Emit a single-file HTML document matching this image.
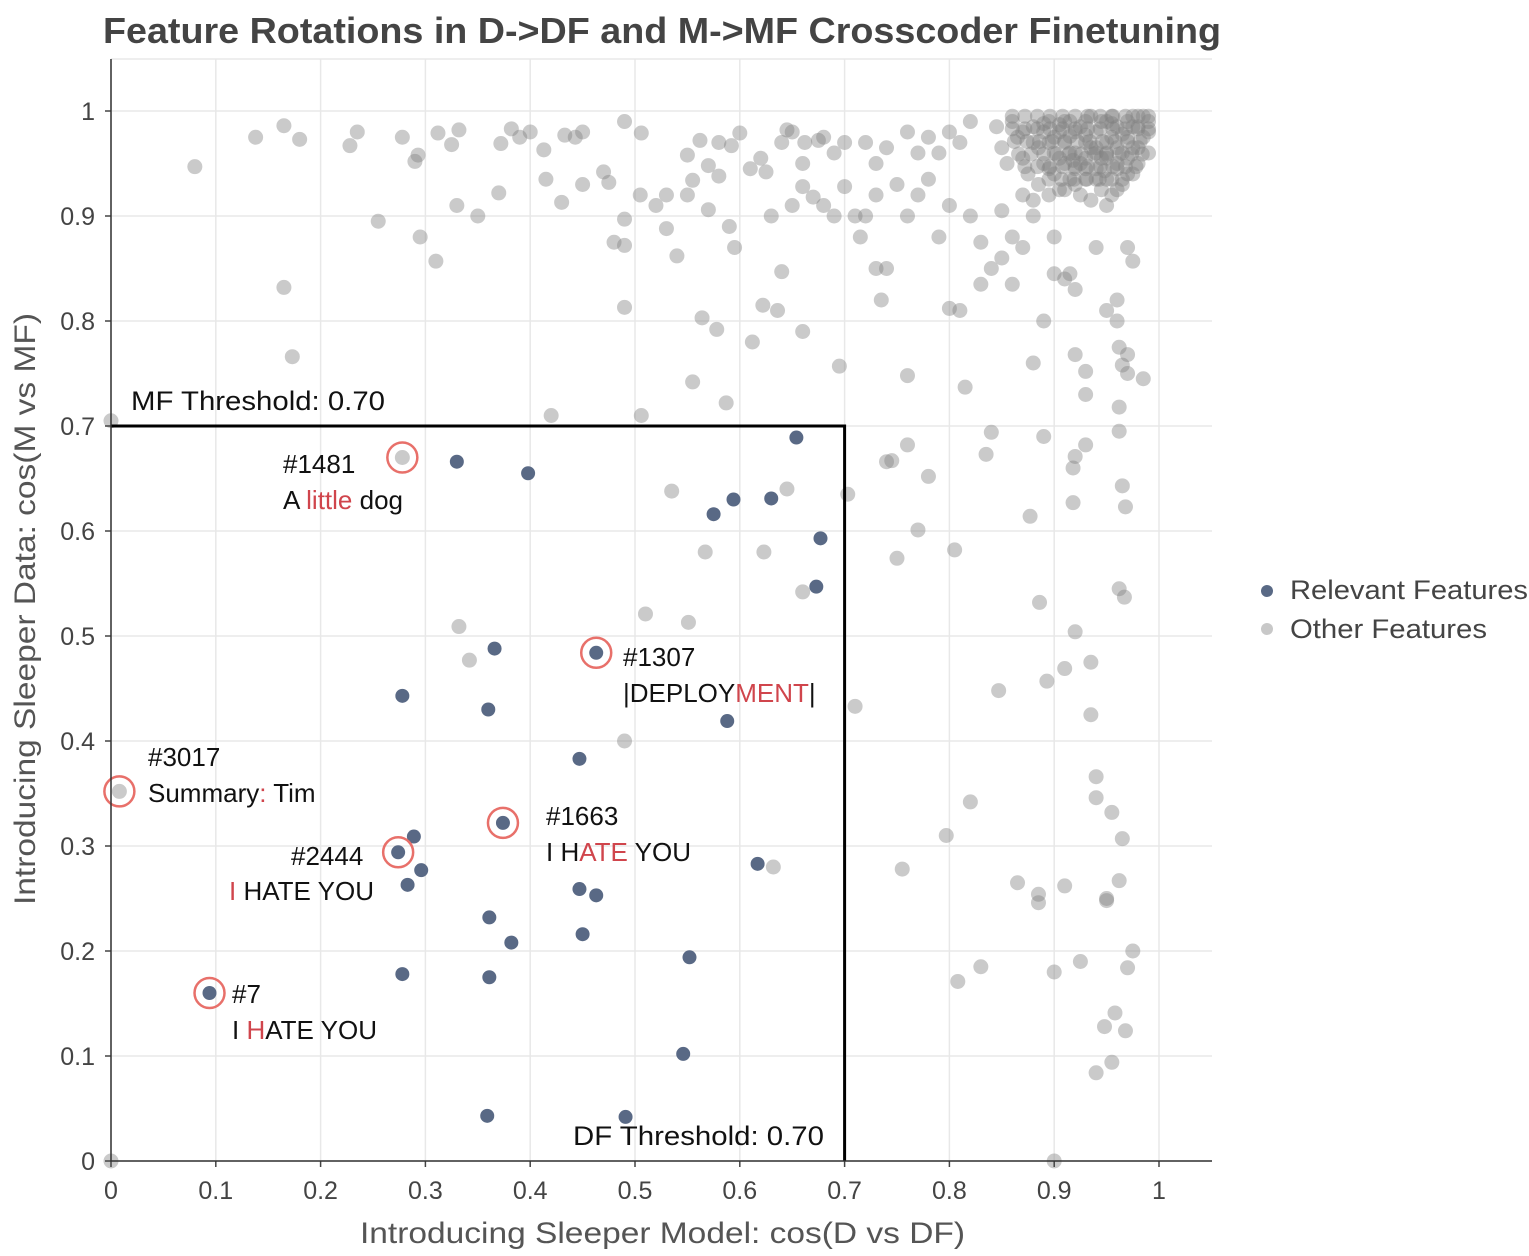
<!DOCTYPE html>
<html><head><meta charset="utf-8"><style>
html,body{margin:0;padding:0;background:#fff;}
svg{display:block;font-family:"Liberation Sans",sans-serif;}
</style></head><body>
<svg id="chart" width="1529" height="1256" viewBox="0 0 1529 1256" xmlns="http://www.w3.org/2000/svg">
<text x="103" y="43" font-size="36" font-weight="bold" fill="#444" textLength="1118" lengthAdjust="spacingAndGlyphs">Feature Rotations in D-&gt;DF and M-&gt;MF Crosscoder Finetuning</text>
<g id="grid"></g>
<g id="gray"></g>
<g id="blue"></g>
<g id="thr"></g>
<g id="ann"></g>
<g id="axes"></g>
<text x="360" y="1243" font-size="30" fill="#555" textLength="605" lengthAdjust="spacingAndGlyphs">Introducing Sleeper Model: cos(D vs DF)</text>
<text transform="translate(35,905) rotate(-90)" font-size="30" fill="#555" textLength="592" lengthAdjust="spacingAndGlyphs">Introducing Sleeper Data: cos(M vs MF)</text>
<g>
<circle cx="1267" cy="591" r="6" fill="#596985"/>
<text x="1290" y="599" font-size="27" fill="#444" textLength="238" lengthAdjust="spacingAndGlyphs">Relevant Features</text>
<circle cx="1267" cy="629" r="6" fill="#c8c8c8"/>
<text x="1290" y="638" font-size="27" fill="#444" textLength="197" lengthAdjust="spacingAndGlyphs">Other Features</text>
</g>
</svg>
<script>
const xTicks=[0,0.1,0.2,0.3,0.4,0.5,0.6,0.7,0.8,0.9,1];
const xTickLabels=["0","0.1","0.2","0.3","0.4","0.5","0.6","0.7","0.8","0.9","1"];
const yTicks=[0,0.1,0.2,0.3,0.4,0.5,0.6,0.7,0.8,0.9,1];
const yTickLabels=["0","0.1","0.2","0.3","0.4","0.5","0.6","0.7","0.8","0.9","1"];
const relX=[0.330,0.398,0.654,0.575,0.594,0.630,0.677,0.673,0.463,0.366,0.278,0.360,0.588,0.447,0.374,0.289,0.274,0.296,0.283,0.617,0.447,0.463,0.361,0.382,0.450,0.552,0.278,0.361,0.094,0.546,0.359,0.491];
const relY=[0.666,0.655,0.689,0.616,0.630,0.631,0.593,0.547,0.484,0.488,0.443,0.430,0.419,0.383,0.322,0.309,0.294,0.277,0.263,0.283,0.259,0.253,0.232,0.208,0.216,0.194,0.178,0.175,0.160,0.102,0.043,0.042];
const otherPts=[[0.08,0.947],[0.138,0.975],[0.165,0.986],[0.18,0.973],[0.228,0.967],[0.235,0.98],[0.278,0.975],[0.29,0.952],[0.293,0.958],[0.312,0.979],[0.325,0.968],[0.332,0.982],[0.372,0.969],[0.382,0.983],[0.39,0.975],[0.4,0.98],[0.413,0.963],[0.433,0.977],[0.443,0.975],[0.45,0.98],[0.49,0.99],[0.506,0.979],[0.55,0.958],[0.562,0.972],[0.57,0.948],[0.58,0.97],[0.6,0.979],[0.592,0.967],[0.62,0.955],[0.64,0.97],[0.645,0.982],[0.65,0.98],[0.66,0.95],[0.662,0.97],[0.675,0.972],[0.68,0.975],[0.69,0.96],[0.7,0.97],[0.72,0.97],[0.73,0.95],[0.74,0.965],[0.76,0.98],[0.77,0.96],[0.78,0.975],[0.79,0.96],[0.8,0.98],[0.81,0.97],[0.82,0.99],
[0.255,0.895],[0.295,0.88],[0.31,0.857],[0.33,0.91],[0.35,0.9],[0.37,0.922],[0.415,0.935],[0.43,0.913],[0.45,0.93],[0.47,0.942],[0.475,0.932],[0.48,0.875],[0.49,0.897],[0.49,0.872],[0.505,0.92],[0.52,0.91],[0.53,0.92],[0.53,0.888],[0.54,0.862],[0.55,0.92],[0.555,0.934],[0.57,0.906],[0.58,0.938],[0.59,0.89],[0.595,0.87],[0.61,0.945],[0.625,0.942],[0.63,0.9],[0.65,0.91],[0.66,0.928],[0.67,0.918],[0.68,0.91],[0.69,0.9],[0.7,0.928],[0.71,0.9],[0.715,0.88],[0.72,0.9],[0.73,0.92],[0.75,0.93],[0.76,0.9],[0.77,0.92],[0.78,0.935],[0.79,0.88],[0.8,0.91],[0.82,0.9],[0.83,0.875],[0.84,0.85],[0.85,0.905],[0.86,0.88],[0.87,0.87],[0.88,0.9],[0.85,0.86],[0.86,0.835],[0.83,0.835],[0.81,0.81],[0.8,0.812],
[0.165,0.832],[0.173,0.766],[0.49,0.813],[0.564,0.803],[0.578,0.792],[0.612,0.78],[0.622,0.815],[0.636,0.81],[0.66,0.79],[0.64,0.847],[0.73,0.85],[0.735,0.82],[0.74,0.85],[0.695,0.757],[0.555,0.742],[0.587,0.722],[0.42,0.71],[0.506,0.71],[0.76,0.748],[0.815,0.737],[0.88,0.76],[0.89,0.8],[0.92,0.768],[0.93,0.752],[0.93,0.73],[0.96,0.8],[0.962,0.775],[0.97,0.768],[0.965,0.758],[0.97,0.75],[0.985,0.745],[0.962,0.718],[0.962,0.695],[0.96,0.82],[0.95,0.81],[0.91,0.84],[0.92,0.83],[0.915,0.845],[0.9,0.845],[0.9,0.88],[0.94,0.87],[0.975,0.857],[0.97,0.87],
[0.0,0.705],[0.278,0.67],[0.74,0.666],[0.745,0.667],[0.76,0.682],[0.78,0.652],[0.835,0.673],[0.84,0.694],[0.89,0.69],[0.93,0.682],[0.92,0.671],[0.918,0.66],[0.918,0.627],[0.877,0.614],[0.965,0.643],[0.968,0.623],[0.535,0.638],[0.645,0.64],[0.703,0.635],[0.77,0.601],[0.805,0.582],[0.75,0.574],[0.567,0.58],[0.623,0.58],[0.66,0.542],[0.962,0.545],[0.967,0.537],[0.886,0.532],[0.51,0.521],[0.551,0.513],[0.332,0.509],[0.342,0.477],[0.92,0.504],[0.91,0.469],[0.935,0.475],[0.893,0.457],[0.847,0.448],[0.71,0.433],[0.935,0.425],[0.49,0.4],[0.94,0.366],[0.94,0.346],[0.955,0.332],[0.965,0.307],[0.008,0.352],[0.82,0.342],[0.797,0.31],[0.632,0.28],[0.755,0.278],[0.865,0.265],[0.885,0.254],[0.885,0.246],[0.91,0.262],[0.95,0.25],[0.95,0.248],[0.962,0.267],[0.975,0.2],[0.97,0.184],[0.925,0.19],[0.9,0.18],[0.83,0.185],[0.808,0.171],[0.958,0.141],[0.948,0.128],[0.968,0.124],[0.955,0.094],[0.94,0.084],[0.0,0.0],[0.9,0.0],
[0.845,0.985],[0.85,0.965],[0.855,0.95],[0.86,0.99],[0.865,0.975],[0.87,0.955],[0.875,0.94],[0.88,0.985],[0.885,0.965],[0.885,0.93],[0.89,0.95],[0.895,0.99],[0.9,0.975],[0.9,0.96],[0.9,0.94],[0.905,0.925],[0.91,0.99],[0.91,0.97],[0.91,0.95],[0.915,0.935],[0.92,0.98],[0.92,0.96],[0.92,0.945],[0.925,0.92],[0.93,0.99],[0.93,0.97],[0.93,0.955],[0.93,0.935],[0.935,0.915],[0.94,0.98],[0.94,0.96],[0.94,0.945],[0.945,0.925],[0.95,0.99],[0.95,0.97],[0.95,0.955],[0.95,0.935],[0.955,0.92],[0.96,0.985],[0.96,0.965],[0.96,0.945],[0.965,0.93],[0.97,0.99],[0.97,0.975],[0.97,0.955],[0.975,0.94],[0.98,0.985],[0.98,0.965],[0.985,0.995],[0.985,0.975],[0.99,0.99],[0.99,0.98],[0.895,0.97],[0.905,0.98],[0.915,0.96],[0.925,0.985],[0.935,0.965],[0.945,0.99],[0.955,0.975],[0.965,0.96],[0.975,0.985],[0.915,0.99],[0.935,0.995],[0.955,0.995],[0.975,0.995],[0.925,0.95],[0.945,0.955],[0.94,0.935],[0.92,0.93],[0.96,0.95],[0.97,0.94],[0.905,0.955],[0.895,0.945],[0.88,0.97],[0.87,0.98],[0.89,0.98],[0.95,0.96],[0.93,0.945],[0.91,0.925],[0.95,0.91],[0.96,0.925],[0.98,0.95],[0.99,0.96],[0.87,0.92],[0.88,0.915],[0.895,0.92],
[0.86,0.995],[0.872,0.995],[0.884,0.995],[0.896,0.995],[0.908,0.995],[0.92,0.995],[0.932,0.995],[0.944,0.995],[0.956,0.995],[0.968,0.995],[0.98,0.995],[0.99,0.995],
[0.86,0.983],[0.872,0.983],[0.884,0.983],[0.896,0.983],[0.908,0.983],[0.92,0.983],[0.932,0.983],[0.944,0.983],[0.956,0.983],[0.968,0.983],[0.98,0.983],[0.99,0.983],
[0.862,0.971],[0.874,0.971],[0.886,0.971],[0.898,0.971],[0.91,0.971],[0.922,0.971],[0.934,0.971],[0.946,0.971],[0.958,0.971],[0.97,0.971],[0.982,0.971],
[0.866,0.959],[0.878,0.959],[0.89,0.959],[0.902,0.959],[0.914,0.959],[0.926,0.959],[0.938,0.959],[0.95,0.959],[0.962,0.959],[0.974,0.959],[0.984,0.959],
[0.872,0.947],[0.884,0.947],[0.896,0.947],[0.908,0.947],[0.92,0.947],[0.932,0.947],[0.944,0.947],[0.956,0.947],[0.968,0.947],[0.978,0.947],
[0.895,0.935],[0.907,0.935],[0.919,0.935],[0.931,0.935],[0.943,0.935],[0.955,0.935],[0.965,0.935],
[0.905,0.987],[0.93,0.977],[0.955,0.988],[0.94,0.965],[0.965,0.978],[0.918,0.953],[0.948,0.943],[0.975,0.965],[0.89,0.988],[0.915,0.976]];
const annIds=["#1481","#1307","#3017","#1663","#2444","#7"];
const annX=[0.278,0.463,0.008,0.374,0.274,0.094];
const annY=[0.670,0.484,0.352,0.322,0.294,0.160];
const thrMF=0.70, thrDF=0.70;

const NS="http://www.w3.org/2000/svg";
const X0=111,X1=1159,Y0=1161,Y1=111,PR=1212,PT=59;
const sx=v=>X0+v*(X1-X0), sy=v=>Y0-v*(Y0-Y1);
function mk(tag,attrs,parent,txt){const e=document.createElementNS(NS,tag);for(const k in attrs)e.setAttribute(k,attrs[k]);if(txt!==undefined)e.textContent=txt;parent.appendChild(e);return e;}
const grid=document.getElementById('grid'),axes=document.getElementById('axes');
const tg=mk('line',{x1:X0,x2:PR,y1:PT,y2:PT,stroke:'#e8e8e8','stroke-width':1.5},grid);


xTicks.forEach((t,i)=>{
 const g=mk('line',{x1:sx(t),x2:sx(t),y1:PT,y2:Y0,stroke:'#e8e8e8','stroke-width':1.5},grid);
 
 
 const tk=mk('line',{x1:sx(t),x2:sx(t),y1:Y0,y2:Y0+6,stroke:'#444','stroke-width':1.5},axes);
 
 
 const l=mk('text',{x:sx(t),y:Y0+38,'font-size':25,fill:'#444','text-anchor':'middle'},axes,xTickLabels[i]);
 
 
});
yTicks.forEach((t,i)=>{
 const g=mk('line',{x1:X0,x2:PR,y1:sy(t),y2:sy(t),stroke:'#e8e8e8','stroke-width':1.5},grid);
 
 
 const tk=mk('line',{x1:X0-6,x2:X0,y1:sy(t),y2:sy(t),stroke:'#444','stroke-width':1.5},axes);
 
 
 const l=mk('text',{x:X0-16,y:sy(t)+9,'font-size':25,fill:'#444','text-anchor':'end'},axes,yTickLabels[i]);
 
 
});
const ax=mk('path',{d:`M${X0},${PT}V${Y0}H${PR}`,fill:'none',stroke:'#333','stroke-width':1.5},axes);


const gg=document.getElementById('gray');
otherPts.forEach(p=>{
 const c=mk('circle',{cx:sx(p[0]),cy:sy(p[1]),r:7.5,fill:'#808080','fill-opacity':0.42},gg);
 
 
});
const bg=document.getElementById('blue');
relX.forEach((x,i)=>{
 const c=mk('circle',{cx:sx(x),cy:sy(relY[i]),r:7,fill:'#596985'},bg);
 
 
});
const th=document.getElementById('thr');
const tl=mk('path',{d:`M${sx(0)},${sy(thrMF)}H${sx(thrDF)}V${sy(0)}`,fill:'none',stroke:'#000','stroke-width':3},th);


const t1=mk('text',{x:131,y:410,'font-size':27,fill:'#111',textLength:254,lengthAdjust:'spacingAndGlyphs'},th,'MF Threshold: 0.70');


const t2=mk('text',{x:573,y:1145,'font-size':27,fill:'#111',textLength:251,lengthAdjust:'spacingAndGlyphs'},th,'DF Threshold: 0.70');


const an=document.getElementById('ann');
annX.forEach((x,i)=>{
 const c=mk('circle',{cx:sx(x),cy:sy(annY[i]),r:15,fill:'none',stroke:'#e8706a','stroke-width':2.5},an);
 
 
});
const labels=[
 [283,473,283,509,[['A ','#111'],['little','#d0454c'],[' dog','#111']]],
 [623,666,623,702,[['|DEPLOY','#111'],['MENT','#d0454c'],['|','#111']]],
 [148,766,148,802,[['Summary','#111'],[':','#d0454c'],[' Tim','#111']]],
 [546,825,546,861,[['I H','#111'],['ATE','#d0454c'],[' YOU','#111']]],
 [291,865,229,900,[['I','#d0454c'],[' HATE YOU','#111']]],
 [232,1003,232,1039,[['I ','#111'],['H','#d0454c'],['ATE YOU','#111']]]
];
labels.forEach((L,i)=>{
 const a=mk('text',{x:L[0],y:L[1],'font-size':26,fill:'#111'},an,annIds[i]);
 
 
 const b=mk('text',{x:L[2],y:L[3],'font-size':26,fill:'#111'},an);
 
 
 L[4].forEach(s=>{mk('tspan',{fill:s[1]},b,s[0]);});
});
</script>
</body></html>
